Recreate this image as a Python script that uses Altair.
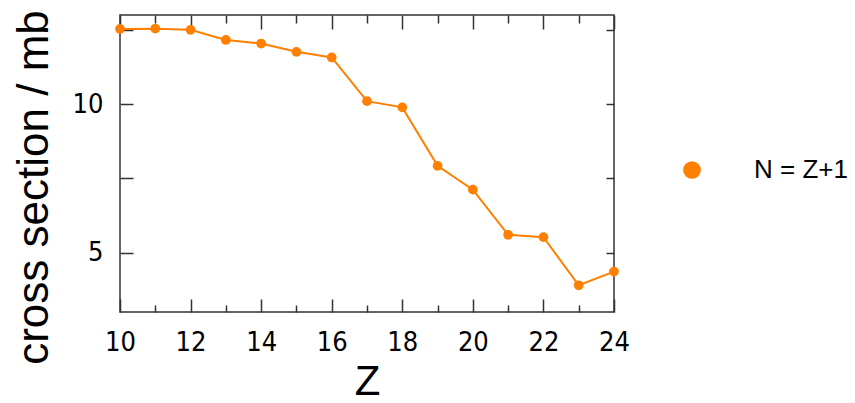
import altair as alt
import pandas as pd

# ---- data ----
Z = [10, 11, 12, 13, 14, 15, 16, 17, 18, 19, 20, 21, 22, 23, 24]
sigma_mb = [12.53, 12.54, 12.50, 12.16, 12.04, 11.76, 11.57, 10.10, 9.89,
            7.92, 7.12, 5.60, 5.52, 3.90, 4.36]
series_name = "N = Z+1"

x_label_values = [10, 12, 14, 16, 18, 20, 22, 24]
x_tick_values = Z
y_label_values = [5, 10]
y_tick_values = [5, 7.5, 10, 12.5]

x_domain = [10, 24]
y_domain = [3, 13]

ORANGE = "#ff7f00"
FRAME = "#333333"
TICK_FONT = "DejaVu Sans Condensed, Liberation Sans Narrow, Liberation Sans, sans-serif"
TEXT_FONT = "Liberation Sans, sans-serif"

W, H = 494, 297

df = pd.DataFrame({"Z": Z, "sigma": sigma_mb, "series": [series_name] * len(Z)})

xs = alt.Scale(domain=x_domain, nice=False, zero=False)
ys = alt.Scale(domain=y_domain, nice=False, zero=False)

base = alt.Chart(df)

major_minor_top = {"condition": {"test": "datum.value % 2 === 0", "value": 14}, "value": 8}
major_minor_bot = {"condition": {"test": "datum.value % 2 === 0", "value": 13}, "value": 7}

# ticks along the top and left edges (pointing inward)
ticks_a = base.mark_point(opacity=0).encode(
    x=alt.X("Z:Q", scale=xs, axis=alt.Axis(
        orient="bottom", offset=-H, values=x_tick_values, labels=False,
        domain=False, grid=False, title=None, tickSize=major_minor_top,
        tickColor=FRAME, tickWidth=1.5)),
    y=alt.Y("sigma:Q", scale=ys, axis=alt.Axis(
        orient="right", offset=-W, values=y_tick_values, labels=False,
        domain=False, grid=False, title=None, tickSize=13,
        tickColor=FRAME, tickWidth=1.5)),
)

# ticks along the bottom and right edges (pointing inward)
ticks_b = base.mark_point(opacity=0).encode(
    x=alt.X("Z:Q", scale=xs, axis=alt.Axis(
        orient="top", offset=-H, values=x_tick_values, labels=False,
        domain=False, grid=False, title=None, tickSize=major_minor_bot,
        tickColor=FRAME, tickWidth=1.5)),
    y=alt.Y("sigma:Q", scale=ys, axis=alt.Axis(
        orient="left", offset=-W, values=y_tick_values, labels=False,
        domain=False, grid=False, title=None, tickSize=8,
        tickColor=FRAME, tickWidth=1.5)),
)

line = base.mark_line(color=ORANGE, strokeWidth=2).encode(
    x=alt.X("Z:Q", scale=xs, axis=None),
    y=alt.Y("sigma:Q", scale=ys, axis=None),
)

points = base.mark_point(filled=True, size=95, opacity=1).encode(
    x=alt.X("Z:Q", scale=xs, axis=alt.Axis(
        orient="bottom", values=x_label_values, ticks=False, tickSize=0,
        domain=False, grid=False, labelPadding=17, labelFont=TICK_FONT,
        labelFontSize=27, labelColor="black", format="d", labelFlush=False,
        labelOverlap=False,
        title="Z", titleFont=TEXT_FONT, titleFontSize=42,
        titleFontWeight="normal", titleColor="black",
        titleY=82, titleBaseline="alphabetic")),
    y=alt.Y("sigma:Q", scale=ys, axis=alt.Axis(
        orient="left", values=y_label_values, ticks=False, tickSize=0,
        domain=False, grid=False, labelPadding=17, labelFont=TICK_FONT,
        labelFontSize=27, labelColor="black", format="d", labelFlush=False,
        title="cross section / mb", titleFont=TEXT_FONT, titleFontSize=44,
        titleFontWeight="normal", titleColor="black", titleAngle=-90,
        titleX=-73, titleY=172, titleAlign="center",
        titleBaseline="alphabetic")),
    color=alt.Color("series:N", scale=alt.Scale(range=[ORANGE]),
                    legend=alt.Legend(
                        title=None, orient="none", legendX=559, legendY=142,
                        symbolType="circle", symbolSize=314,
                        symbolFillColor=ORANGE, symbolStrokeWidth=0,
                        symbolOpacity=1, labelFont=TEXT_FONT,
                        labelFontSize=26, labelColor="black",
                        labelOffset=49, padding=0)),
)

chart = alt.layer(ticks_a, ticks_b, line, points).resolve_axis(
    x="independent", y="independent"
).properties(
    width=W, height=H,
    padding={"left": 120, "top": 15, "right": 855 - 120 - W, "bottom": 403 - 15 - H},
    autosize=alt.AutoSizeParams(type="none"),
    background="white",
).configure_view(stroke=FRAME, strokeWidth=1.5)

chart.save("out.html", embed_options={"renderer": "svg", "actions": False})
